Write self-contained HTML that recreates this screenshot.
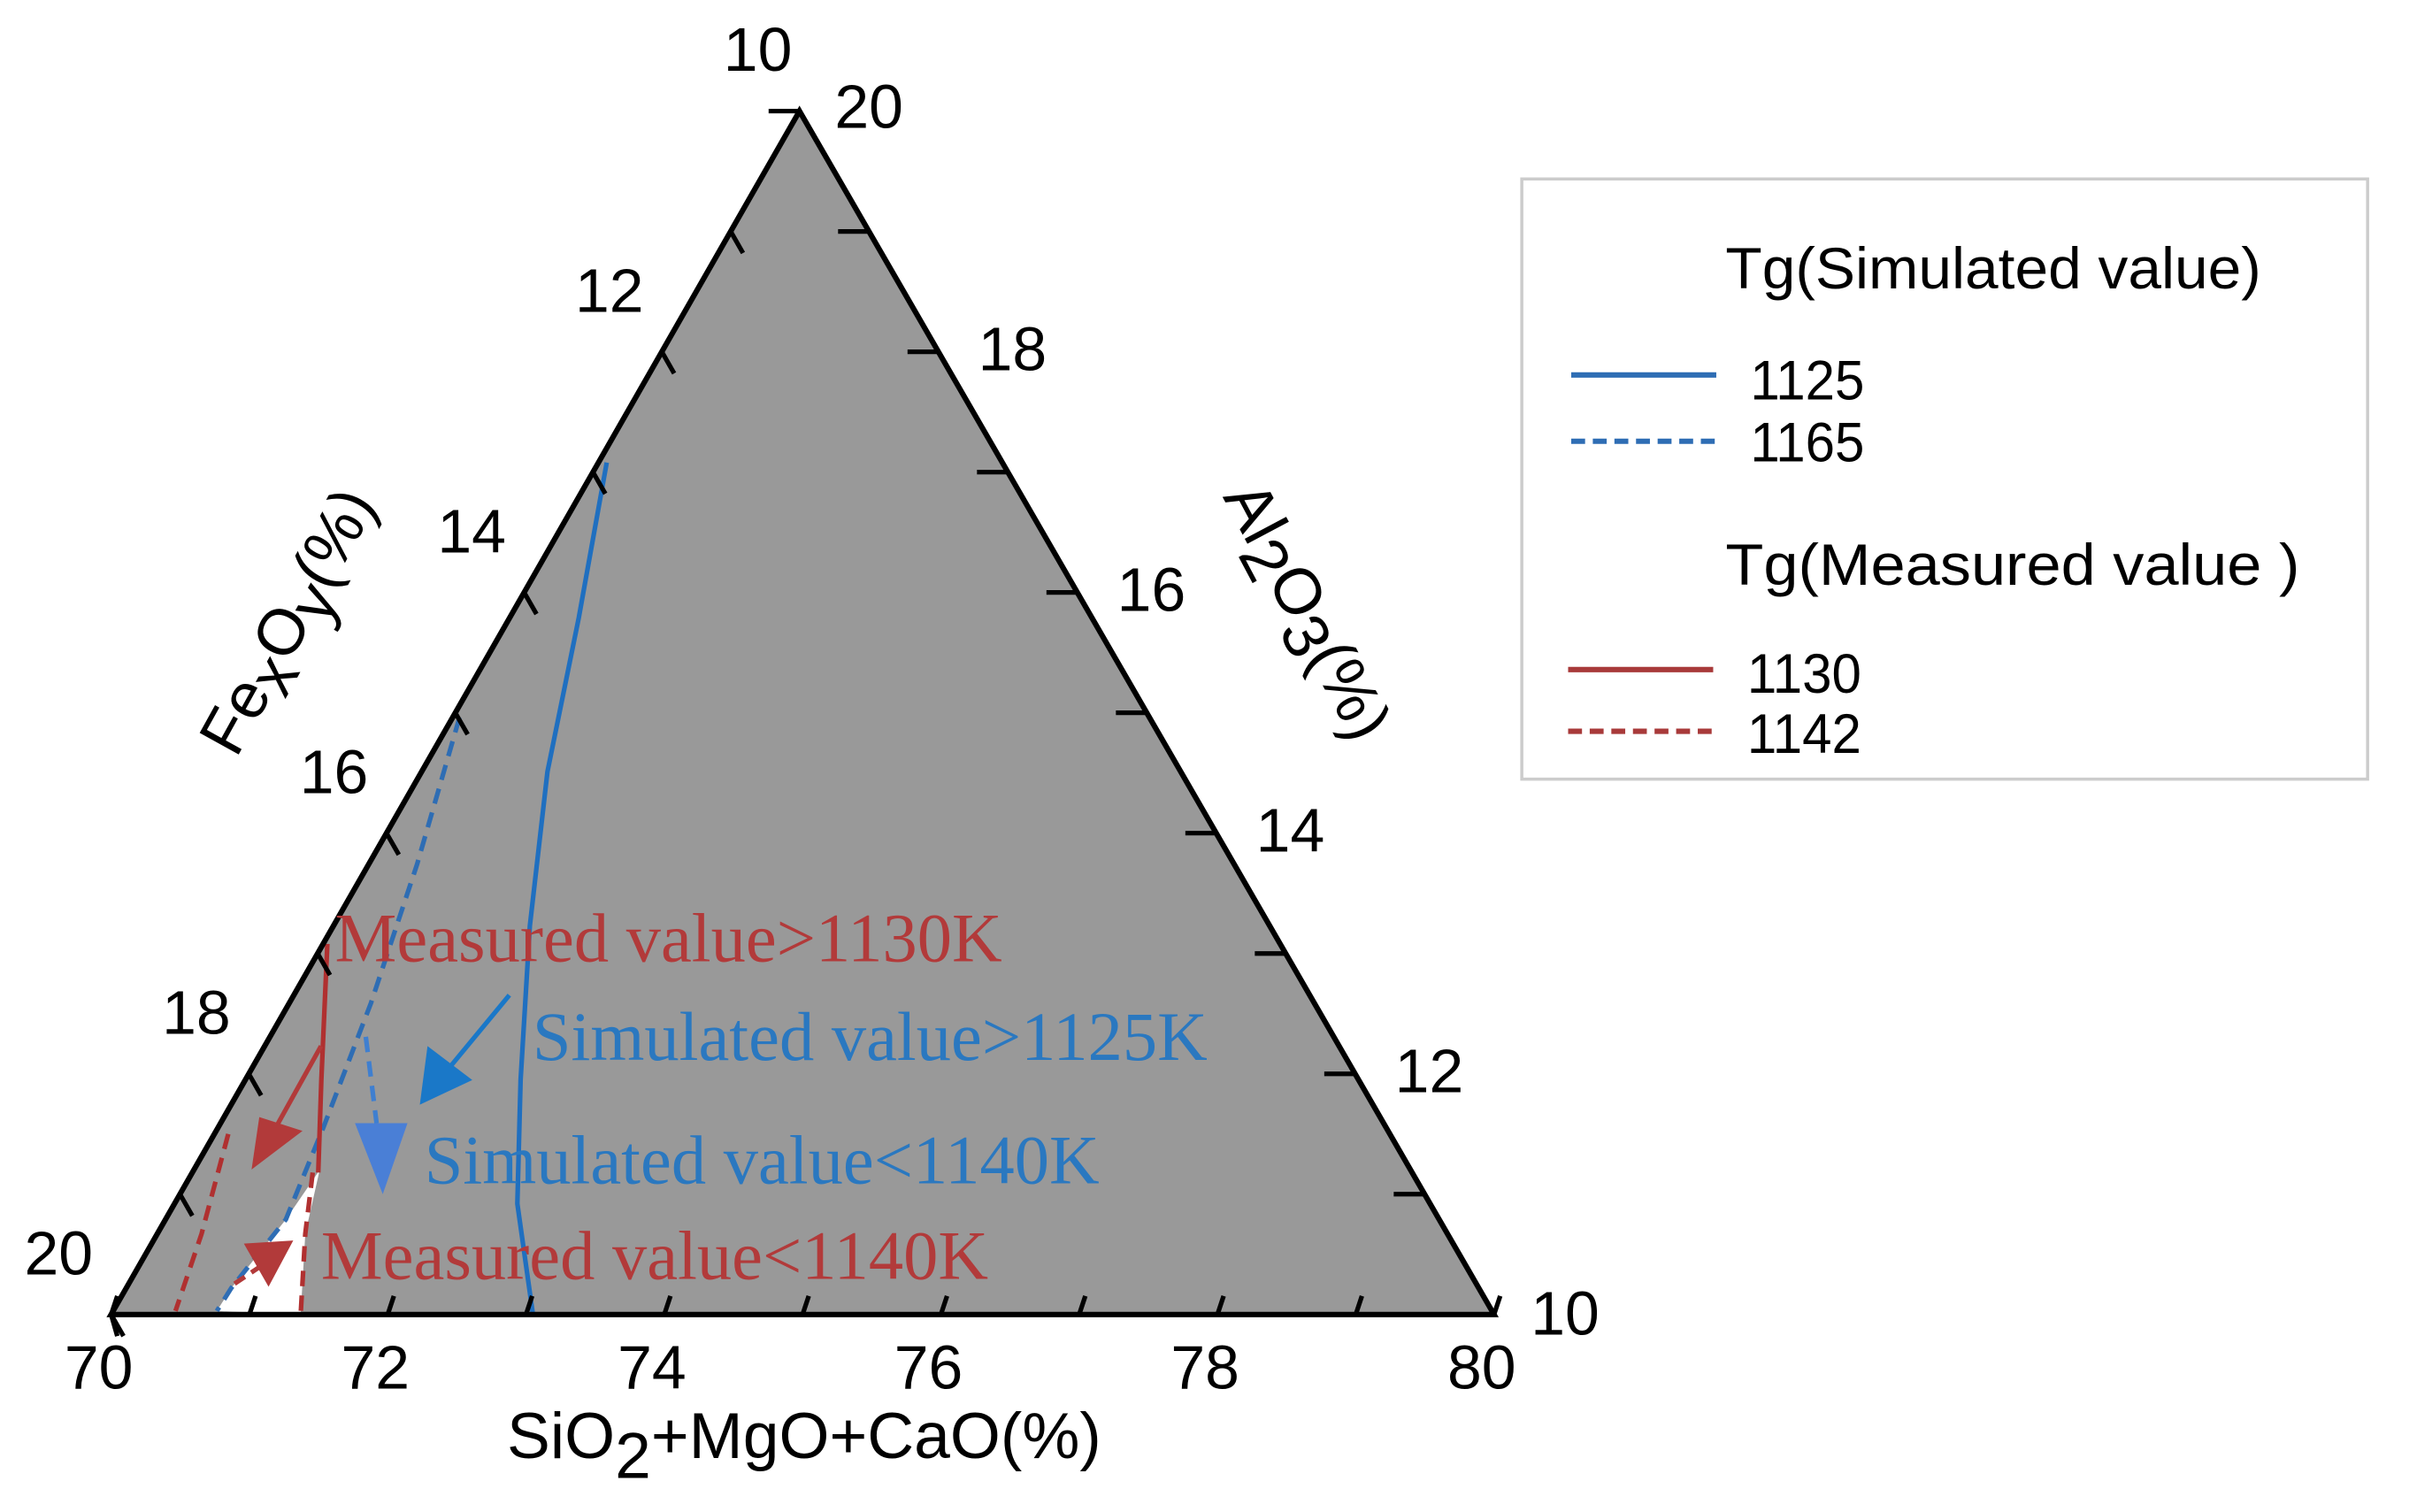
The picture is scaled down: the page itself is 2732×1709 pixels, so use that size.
<!DOCTYPE html>
<html><head><meta charset="utf-8"><style>
html,body{margin:0;padding:0;background:#fff;}
svg{display:block;}
text{font-family:"Liberation Sans",sans-serif;}
</style></head><body>
<svg id="chart" width="2732" height="1709" viewBox="0 0 1566 980" preserveAspectRatio="none" xmlns="http://www.w3.org/2000/svg">
<polygon points="72,852 518,72 968,852" fill="#999999" stroke="none"/>
<g id="series"></g>
<polygon points="72,852 518,72 968,852" fill="none" stroke="#000" stroke-width="3.5" stroke-linejoin="miter"/>
<g id="ticks"></g>
<g id="annotations">
  <line x1="208" y1="678" x2="178" y2="732" stroke="#b23a3a" stroke-width="3"/>
  <polygon points="163,758 168,724 196,733" fill="#b23a3a"/>
  <line x1="152" y1="832" x2="170" y2="820" stroke="#b23a3a" stroke-width="3" stroke-dasharray="8,5"/>
  <polygon points="190,804 158,806 174,834" fill="#b23a3a"/>
  <line x1="330" y1="645" x2="292" y2="691" stroke="#1a78c8" stroke-width="3"/>
  <polygon points="272,716 277,678 306,700" fill="#1a78c8"/>
  <line x1="237" y1="672" x2="244" y2="728" stroke="#3f7fd0" stroke-width="3" stroke-dasharray="10,6"/>
  <polygon points="230,728 264,728 248,774" fill="#4a7fd6"/>
</g>
<g style="font-family:'Liberation Serif',serif" font-size="45">
  <text x="217" y="623" fill="#b23a3a" style="font-family:'Liberation Serif',serif">Measured value&gt;1130K</text>
  <text x="345" y="687" fill="#2a78c0" style="font-family:'Liberation Serif',serif">Simulated value&gt;1125K</text>
  <text x="275" y="767" fill="#2a78c0" style="font-family:'Liberation Serif',serif">Simulated value&lt;1140K</text>
  <text x="208" y="829" fill="#b23a3a" style="font-family:'Liberation Serif',serif">Measured value&lt;1140K</text>
</g>
<g id="ticklabels" fill="#000"></g>
<text x="521" y="945" font-size="42" text-anchor="middle">SiO<tspan dy="13">2</tspan><tspan dy="-13">+MgO+CaO(%)</tspan></text>
<text transform="translate(153,492) rotate(-61)" font-size="42">Fe<tspan dy="9">x</tspan><tspan dy="-9">O</tspan><tspan dy="9">y</tspan><tspan dy="-9">(%)</tspan></text>
<text transform="translate(792,322) rotate(62)" font-size="42">Al<tspan dy="9">2</tspan><tspan dy="-9">O</tspan><tspan dy="9">3</tspan><tspan dy="-9">(%)</tspan></text>
<g>
  <rect x="986" y="116" width="548" height="389" fill="#fff" stroke="#cccccc" stroke-width="2"/>
  <text x="1118" y="187" font-size="38" textLength="347" lengthAdjust="spacingAndGlyphs">Tg(Simulated  value)</text>
  <line x1="1018" y1="243" x2="1112" y2="243" stroke="#2e6db4" stroke-width="3.5"/>
  <text x="1134" y="259" font-size="36" textLength="74" lengthAdjust="spacingAndGlyphs">1125</text>
  <line x1="1018" y1="286" x2="1112" y2="286" stroke="#2e6db4" stroke-width="3.5" stroke-dasharray="9,5"/>
  <text x="1134" y="299" font-size="36" textLength="74" lengthAdjust="spacingAndGlyphs">1165</text>
  <text x="1118" y="379" font-size="38" textLength="372" lengthAdjust="spacingAndGlyphs">Tg(Measured  value )</text>
  <line x1="1016" y1="434" x2="1110" y2="434" stroke="#a83a3a" stroke-width="3.5"/>
  <text x="1132" y="449" font-size="36" textLength="74" lengthAdjust="spacingAndGlyphs">1130</text>
  <line x1="1016" y1="474" x2="1110" y2="474" stroke="#a83a3a" stroke-width="3.5" stroke-dasharray="9,5"/>
  <text x="1132" y="488" font-size="36" textLength="74" lengthAdjust="spacingAndGlyphs">1142</text>
</g>
</svg>
<script>
// Data: points as [SiO2+MgO+CaO, Al2O3]; FexOy = 100 - S - A
const s1125 = [70.06, 70.50, 70.91, 71.42, 71.99, 72.48, 73.05];
const a1125 = [17.08, 15.79, 14.51, 13.23, 11.95, 10.92, 10.00];
const s1165 = [70.05, 70.35, 70.59, 70.76, 70.87, 70.76, 70.75];
const a1165 = [14.96, 13.74, 12.59, 11.56, 10.79, 10.22, 10.03];
const s1130 = [70.03, 70.55, 70.91];
const a1130 = [13.08, 11.95, 11.18];
const s1142a = [70.87, 71.07, 71.37];
const a1142a = [11.18, 10.67, 10.00];
const s1142b = [70.10, 70.32, 70.45];
const a1142b = [11.50, 10.67, 10.03];
const whiteS = [70.91, 70.87, 70.76, 70.75, 71.37, 71.07];
const whiteA = [11.20, 10.79, 10.22, 10.03, 10.00, 10.67];
const bottomTicks = [70, 72, 74, 76, 78, 80];
const leftTicks = [12, 14, 16, 18, 20];
const rightTicks = [12, 14, 16, 18];

const L = [72, 852], T = [518, 72], R = [968, 852];
function pos(S, A) {
  const a = (S - 70) / 10, b = (A - 10) / 10, c = 1 - a - b;
  return [c * L[0] + b * T[0] + a * R[0], c * L[1] + b * T[1] + a * R[1]];
}
const NS = "http://www.w3.org/2000/svg";
const g = document.getElementById("series");
function pathD(S, A, close) {
  let d = "";
  for (let i = 0; i < S.length; i++) { const p = pos(S[i], A[i]); d += (i ? "L" : "M") + p[0].toFixed(1) + "," + p[1].toFixed(1); }
  return d + (close ? "Z" : "");
}
function addPath(S, A, color, dash, name, fill) {
  const p = document.createElementNS(NS, "path");
  p.setAttribute("d", pathD(S, A, !!fill));
  p.setAttribute("fill", fill || "none");
  p.setAttribute("stroke", fill ? "none" : color);
  p.setAttribute("stroke-width", "3");
  p.setAttribute("stroke-linejoin", "round");
  if (dash) p.setAttribute("stroke-dasharray", dash);
  
  
  g.appendChild(p);
}
addPath(whiteS, whiteA, null, null, "white-region", "#ffffff");
addPath(s1125, a1125, "#1f6fc0", null, "line-sim-1125");
addPath(s1165, a1165, "#2e6db4", "10,6", "line-sim-1165");
addPath(s1130, a1130, "#b03030", null, "line-meas-1130");
addPath(s1142a, a1142a, "#b03030", "10,6", "line-meas-1142-right");
addPath(s1142b, a1142b, "#b03030", "10,6", "line-meas-1142-left");

const tg = document.getElementById("ticks");
const lg = document.getElementById("ticklabels");
function tick(x1, y1, x2, y2, name) {
  const l = document.createElementNS(NS, "line");
  l.setAttribute("x1", x1); l.setAttribute("y1", y1); l.setAttribute("x2", x2); l.setAttribute("y2", y2);
  l.setAttribute("stroke", "#000"); l.setAttribute("stroke-width", "3");
  
  
  tg.appendChild(l);
}
function label(x, y, t, name, anchor) {
  const e = document.createElementNS(NS, "text");
  e.setAttribute("x", x); e.setAttribute("y", y); e.textContent = t;
  e.setAttribute("font-size", "40");
  if (anchor) e.setAttribute("text-anchor", anchor);
  
  
  lg.appendChild(e);
}
// bottom axis ticks (every 1 unit), slanted upward
for (let v = 70; v <= 80; v++) {
  const p = pos(v, 10);
  tick(p[0], p[1], p[0] + 4, p[1] - 12, "bottom-tick");
}
tick(72, 852, 76, 866, "bottom-corner-tick");
bottomTicks.forEach(v => { const p = pos(v, 10); label(p[0] - 8, 900, String(v), "bottom-tick-label", "middle"); });
// left axis FexOy (S=70), F from 10 (apex) to 20 (bottom)
for (let f = 10; f <= 20; f++) {
  const p = pos(70, 100 - 70 - f);
  tick(p[0], p[1], p[0] + 8, p[1] + 14, "left-tick");
}
leftTicks.forEach(f => { const p = pos(70, 30 - f); label(p[0] - 34, p[1] - 26, String(f), "left-tick-label", "middle"); });
// right axis Al2O3 (F=10): A from 20 (apex) to 10 (bottom right)
for (let a = 10; a <= 20; a++) {
  const p = pos(90 - a, a);
  tick(p[0], p[1], p[0] - 20, p[1], "right-tick");
}
rightTicks.forEach(a => { const p = pos(90 - a, a); label(p[0] + 48, p[1] + 12, String(a), "right-tick-label", "middle"); });
label(491, 46, "10", "top-left-tick-label", "middle");
label(563, 83, "20", "top-right-tick-label", "middle");
label(1014, 865, "10", "right-corner-tick-label", "middle");
</script>
</body></html>
